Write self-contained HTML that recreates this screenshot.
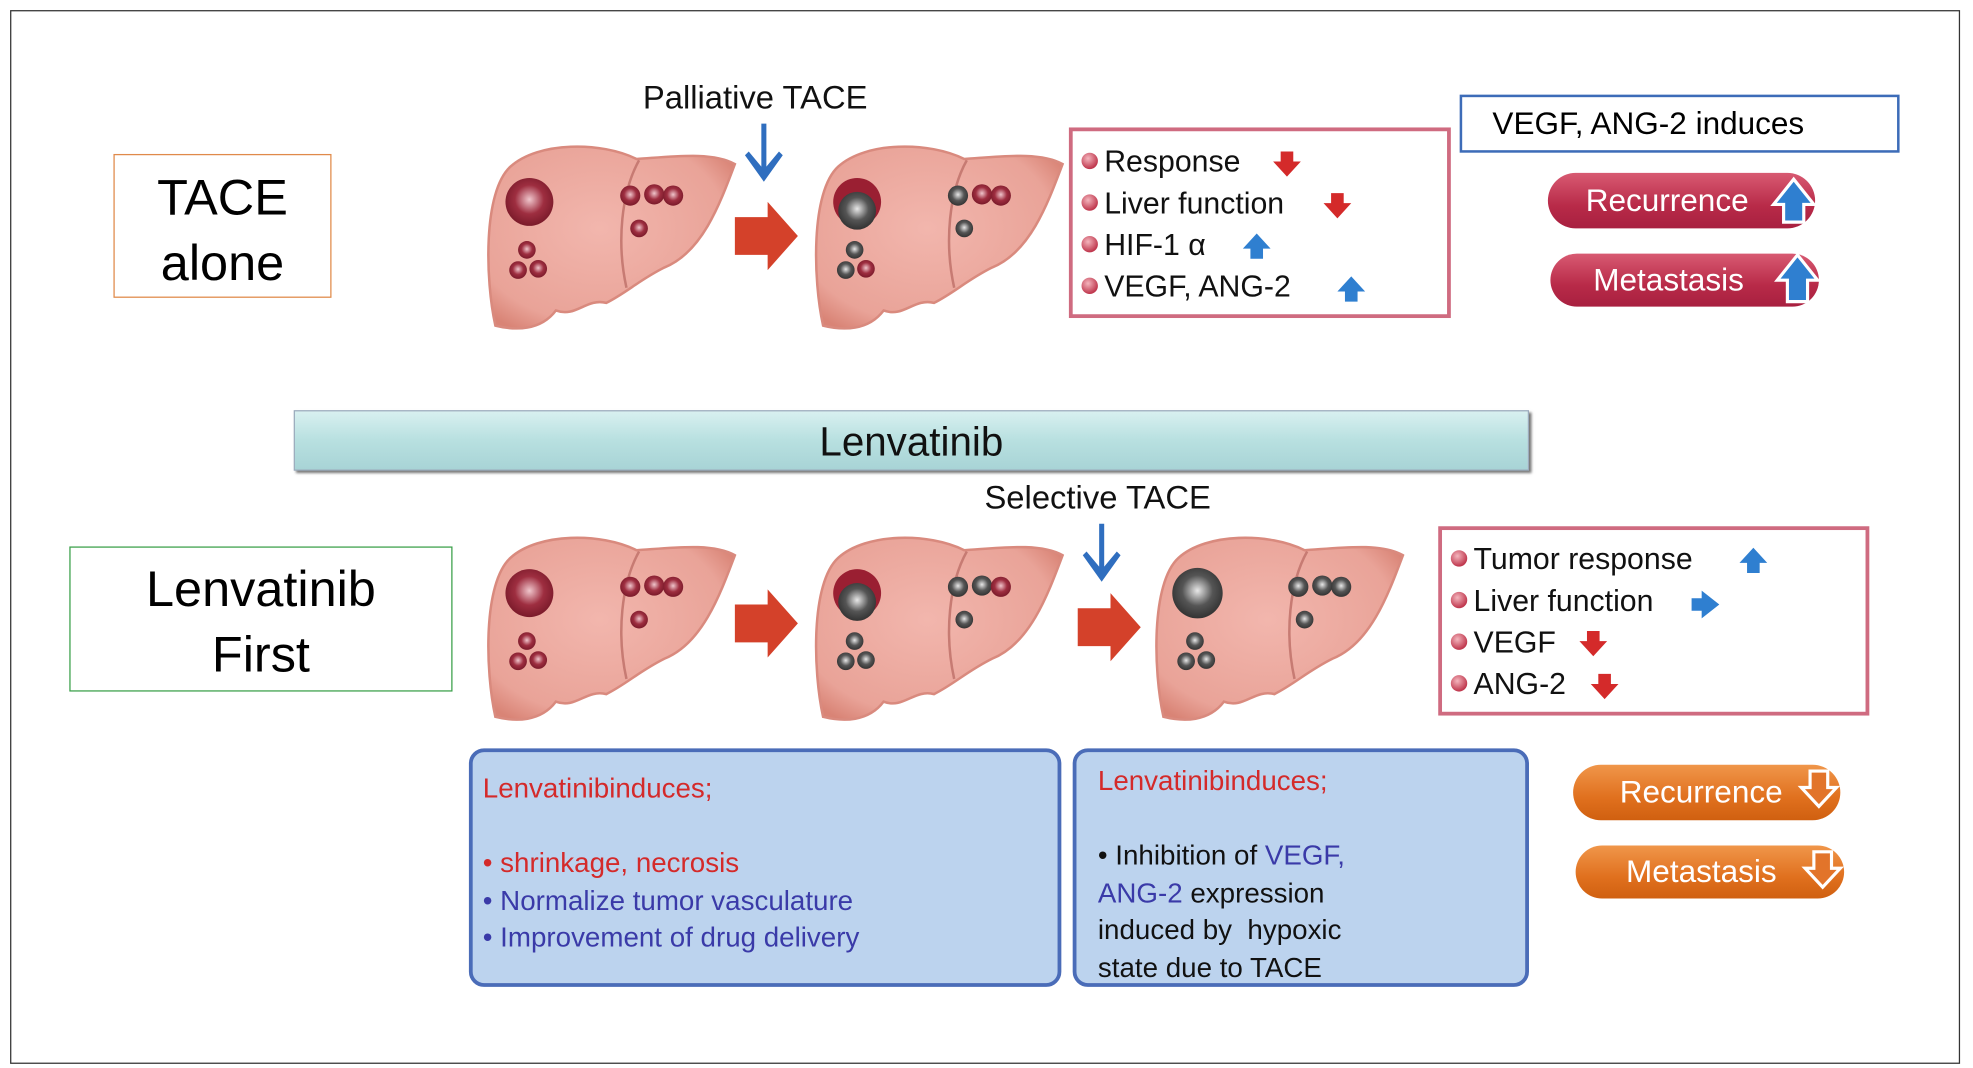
<!DOCTYPE html>
<html><head><meta charset="utf-8"><style>
html,body{margin:0;padding:0;background:#fff;width:1973px;height:1068px;overflow:hidden}
#w{position:absolute;left:0;top:0;width:1560px;height:844px;transform:scale(1.2605,1.262);transform-origin:0 0;font-family:"Liberation Sans",sans-serif}
.a{position:absolute}
.t{position:absolute;white-space:nowrap;color:#111}
.pill{position:absolute;border-radius:22px;color:#fff;font-size:25px;display:flex;align-items:center;padding-left:30px;box-sizing:border-box}
.li{position:absolute;font-size:24px;color:#111;white-space:nowrap}
.dot{display:inline-block;width:13px;height:13px;border-radius:50%;background:radial-gradient(circle at 40% 35%,#f4b5bd,#c0394f 70%);margin-right:5px;vertical-align:2px}
</style></head><body><div id="w">
<div class="a" style="left:8px;top:8px;width:1545px;height:833px;border:1.5px solid #333"></div>

<svg class="a" style="left:0;top:0" width="1560" height="844">
<defs>
<radialGradient id="lg" cx="45%" cy="45%" r="65%"><stop offset="0" stop-color="#f2b6ad"/><stop offset=".8" stop-color="#e9a398"/><stop offset="1" stop-color="#d98476"/></radialGradient>
<radialGradient id="rt" cx="50%" cy="45%" r="55%"><stop offset="0" stop-color="#f0c6cc"/><stop offset=".55" stop-color="#9e2e40"/><stop offset="1" stop-color="#7a1a2a"/></radialGradient>
<radialGradient id="gt" cx="50%" cy="45%" r="55%"><stop offset="0" stop-color="#e8e8e8"/><stop offset=".55" stop-color="#555"/><stop offset="1" stop-color="#333"/></radialGradient>
<g id="liver">
<path d="M8,146 C0,110 -2,40 20,20 C42,0 92,0 120,14 C150,12 180,8 198,18 C186,50 172,88 142,100 C122,110 112,120 96,128 C80,124 72,140 56,134 C44,150 24,150 8,146 Z" fill="url(#lg)" stroke="#d98a7e" stroke-width="2"/>
<path d="M122,15 C108,40 104,80 112,116" fill="none" stroke="#c77b73" stroke-width="2"/>
</g>
<g id="rarr"><path d="M0,12 H26 V0 L50,27 L26,54 V42 H0 Z" fill="#d4412a"/></g>
<g id="barr"><path d="M-2,0 H2 V34 L12,22 L15,25 L0,46 L-15,25 L-12,22 L-2,34 Z" fill="#2f6ebf"/></g>
<g id="rd"><path d="M-5,0 H5 V8 H11 L0,20 L-11,8 H-5 Z" fill="#d42a2a"/></g>
<g id="bu"><path d="M-5,20 H5 V12 H11 L0,0 L-11,12 H-5 Z" fill="#2f7fd0"/></g>
</defs>

<g transform="translate(385,112)"><use href="#liver"/>
<circle cx="35" cy="48" r="19" fill="url(#rt)"/>
<circle cx="115" cy="43" r="8" fill="url(#rt)"/><circle cx="134" cy="42" r="8" fill="url(#rt)"/><circle cx="149" cy="43" r="8" fill="url(#rt)"/>
<circle cx="122" cy="69" r="7" fill="url(#rt)"/>
<circle cx="33" cy="86" r="7" fill="url(#rt)"/><circle cx="26" cy="102" r="7" fill="url(#rt)"/><circle cx="42" cy="101" r="7" fill="url(#rt)"/></g>
<use href="#rarr" x="583" y="160"/>
<use href="#barr" x="606" y="98"/>
<g transform="translate(645,112)"><use href="#liver"/>
<circle cx="35" cy="48" r="19" fill="#9a1f32"/><circle cx="35" cy="55" r="15" fill="url(#gt)"/>
<circle cx="115" cy="43" r="8" fill="url(#gt)"/><circle cx="134" cy="42" r="8" fill="url(#rt)"/><circle cx="149" cy="43" r="8" fill="url(#rt)"/>
<circle cx="120" cy="69" r="7" fill="url(#gt)"/>
<circle cx="33" cy="86" r="7" fill="url(#gt)"/><circle cx="26" cy="102" r="7" fill="url(#gt)"/><circle cx="42" cy="101" r="7" fill="url(#rt)"/></g>

<g transform="translate(385,422)"><use href="#liver"/>
<circle cx="35" cy="48" r="19" fill="url(#rt)"/>
<circle cx="115" cy="43" r="8" fill="url(#rt)"/><circle cx="134" cy="42" r="8" fill="url(#rt)"/><circle cx="149" cy="43" r="8" fill="url(#rt)"/>
<circle cx="122" cy="69" r="7" fill="url(#rt)"/>
<circle cx="33" cy="86" r="7" fill="url(#rt)"/><circle cx="26" cy="102" r="7" fill="url(#rt)"/><circle cx="42" cy="101" r="7" fill="url(#rt)"/></g>
<use href="#rarr" x="583" y="467"/>
<g transform="translate(645,422)"><use href="#liver"/>
<circle cx="35" cy="48" r="19" fill="#9a1f32"/><circle cx="35" cy="55" r="15" fill="url(#gt)"/>
<circle cx="115" cy="43" r="8" fill="url(#gt)"/><circle cx="134" cy="42" r="8" fill="url(#gt)"/><circle cx="149" cy="43" r="8" fill="url(#rt)"/>
<circle cx="120" cy="69" r="7" fill="url(#gt)"/>
<circle cx="33" cy="86" r="7" fill="url(#gt)"/><circle cx="26" cy="102" r="7" fill="url(#gt)"/><circle cx="42" cy="101" r="7" fill="url(#gt)"/></g>
<use href="#rarr" x="855" y="470"/>
<use href="#barr" x="874" y="415"/>
<g transform="translate(915,422)"><use href="#liver"/>
<circle cx="35" cy="48" r="20" fill="url(#gt)"/>
<circle cx="115" cy="43" r="8" fill="url(#gt)"/><circle cx="134" cy="42" r="8" fill="url(#gt)"/><circle cx="149" cy="43" r="8" fill="url(#gt)"/>
<circle cx="120" cy="69" r="7" fill="url(#gt)"/>
<circle cx="33" cy="86" r="7" fill="url(#gt)"/><circle cx="26" cy="102" r="7" fill="url(#gt)"/><circle cx="42" cy="101" r="7" fill="url(#gt)"/></g>

<use href="#rd" x="1021" y="120"/><use href="#rd" x="1061" y="153"/>
<use href="#rd" x="1264" y="500"/><use href="#rd" x="1273" y="534"/>
<use href="#bu" x="997" y="185"/><use href="#bu" x="1072" y="219"/><use href="#bu" x="1391" y="434"/>
<path d="M1342,474 H1350 V468 L1364,479 L1350,490 V484 H1342 Z" fill="#2f7fd0"/>
</svg>

<div class="t" style="left:510px;top:62px;font-size:26px">Palliative TACE</div>
<div class="t" style="left:781px;top:379px;font-size:26px">Selective TACE</div>

<div class="a" style="left:90px;top:122px;width:173px;height:114px;border:1.5px solid #e08a4a;box-sizing:border-box;text-align:center;font-size:40px;line-height:52px;padding-top:8px">TACE<br>alone</div>
<div class="a" style="left:55px;top:433px;width:304px;height:115px;border:1.5px solid #3aa04a;box-sizing:border-box;text-align:center;font-size:40px;line-height:52px;padding-top:7px">Lenvatinib<br>First</div>

<div class="a" style="left:233px;top:325px;width:980px;height:48px;background:linear-gradient(#d8f0f0,#b8e0e0 50%,#a8d4d6);border:1px solid #9ab;box-shadow:2px 2px 2px #777;box-sizing:border-box;text-align:center;font-size:32px;line-height:48px;color:#111">Lenvatinib</div>

<div class="a" style="left:848px;top:101px;width:303px;height:151px;border:3px solid #cf6b80;box-sizing:border-box"></div>
<div class="li" style="left:858px;top:115px"><span class="dot"></span>Response</div>
<div class="li" style="left:858px;top:148px"><span class="dot"></span>Liver function</div>
<div class="li" style="left:858px;top:181px"><span class="dot"></span>HIF-1 α</div>
<div class="li" style="left:858px;top:214px"><span class="dot"></span>VEGF, ANG-2</div>

<div class="a" style="left:1158px;top:75px;width:349px;height:46px;border:2.5px solid #3d6cb8;box-sizing:border-box;font-size:25px;line-height:42px;padding-left:24px">VEGF, ANG-2 induces</div>
<div class="pill" style="left:1228px;top:137px;width:212px;height:44px;background:linear-gradient(#d85a72,#b82a48 60%,#a82040)">Recurrence</div>
<div class="pill" style="left:1230px;top:201px;width:213px;height:42px;background:linear-gradient(#d85a72,#b82a48 60%,#a82040);padding-left:34px">Metastasis</div>

<div class="a" style="left:1141px;top:417px;width:342px;height:150px;border:3px solid #cf6b80;box-sizing:border-box"></div>
<div class="li" style="left:1151px;top:430px"><span class="dot"></span>Tumor response</div>
<div class="li" style="left:1151px;top:463px"><span class="dot"></span>Liver function</div>
<div class="li" style="left:1151px;top:496px"><span class="dot"></span>VEGF</div>
<div class="li" style="left:1151px;top:529px"><span class="dot"></span>ANG-2</div>

<div class="pill" style="left:1248px;top:606px;width:212px;height:44px;background:linear-gradient(#f0964a,#e0701e 60%,#d06010);padding-left:37px">Recurrence</div>
<div class="pill" style="left:1250px;top:670px;width:213px;height:42px;background:linear-gradient(#f0964a,#e0701e 60%,#d06010);padding-left:40px">Metastasis</div>

<svg class="a" style="left:0;top:0" width="1560" height="844">
<path d="M1415,176 V162 H1407 L1423,142 L1439,162 H1431 V176 Z" fill="#2f7fd0" stroke="#fff" stroke-width="2.5"/>
<path d="M1418,239 V222 H1410 L1426,202 L1442,222 H1434 V239 Z" fill="#2f7fd0" stroke="#fff" stroke-width="2.5"/>
<path d="M1436,611 V624 H1429 L1443,639 L1457,624 H1450 V611 Z" fill="#e2742a" stroke="#fff" stroke-width="2.5"/>
<path d="M1439,675 V688 H1432 L1446,703 L1460,688 H1453 V675 Z" fill="#e2742a" stroke="#fff" stroke-width="2.5"/>
</svg>

<div class="a" style="left:372px;top:593px;width:470px;height:189px;background:#bcd3ee;border:3px solid #4a6cb8;border-radius:12px;box-sizing:border-box;font-size:22px;line-height:29.5px;padding:14px 0 0 8px">
<div style="color:#d42a2a">Lenvatinibinduces;</div><div>&nbsp;</div>
<div style="color:#d42a2a">• shrinkage, necrosis</div>
<div style="color:#3a3aa8">• Normalize tumor vasculature</div>
<div style="color:#3a3aa8">• Improvement of drug delivery</div></div>

<div class="a" style="left:851px;top:593px;width:362px;height:189px;background:#bcd3ee;border:3px solid #4a6cb8;border-radius:12px;box-sizing:border-box;font-size:22px;line-height:29.5px;padding:8px 0 0 17px;color:#111">
<div style="color:#d42a2a">Lenvatinibinduces;</div><div>&nbsp;</div>
<div>• Inhibition of <span style="color:#3a3aa8">VEGF,</span></div>
<div><span style="color:#3a3aa8">ANG-2</span> expression</div>
<div>induced by&nbsp; hypoxic</div>
<div>state due to TACE</div></div>
</div></body></html>
